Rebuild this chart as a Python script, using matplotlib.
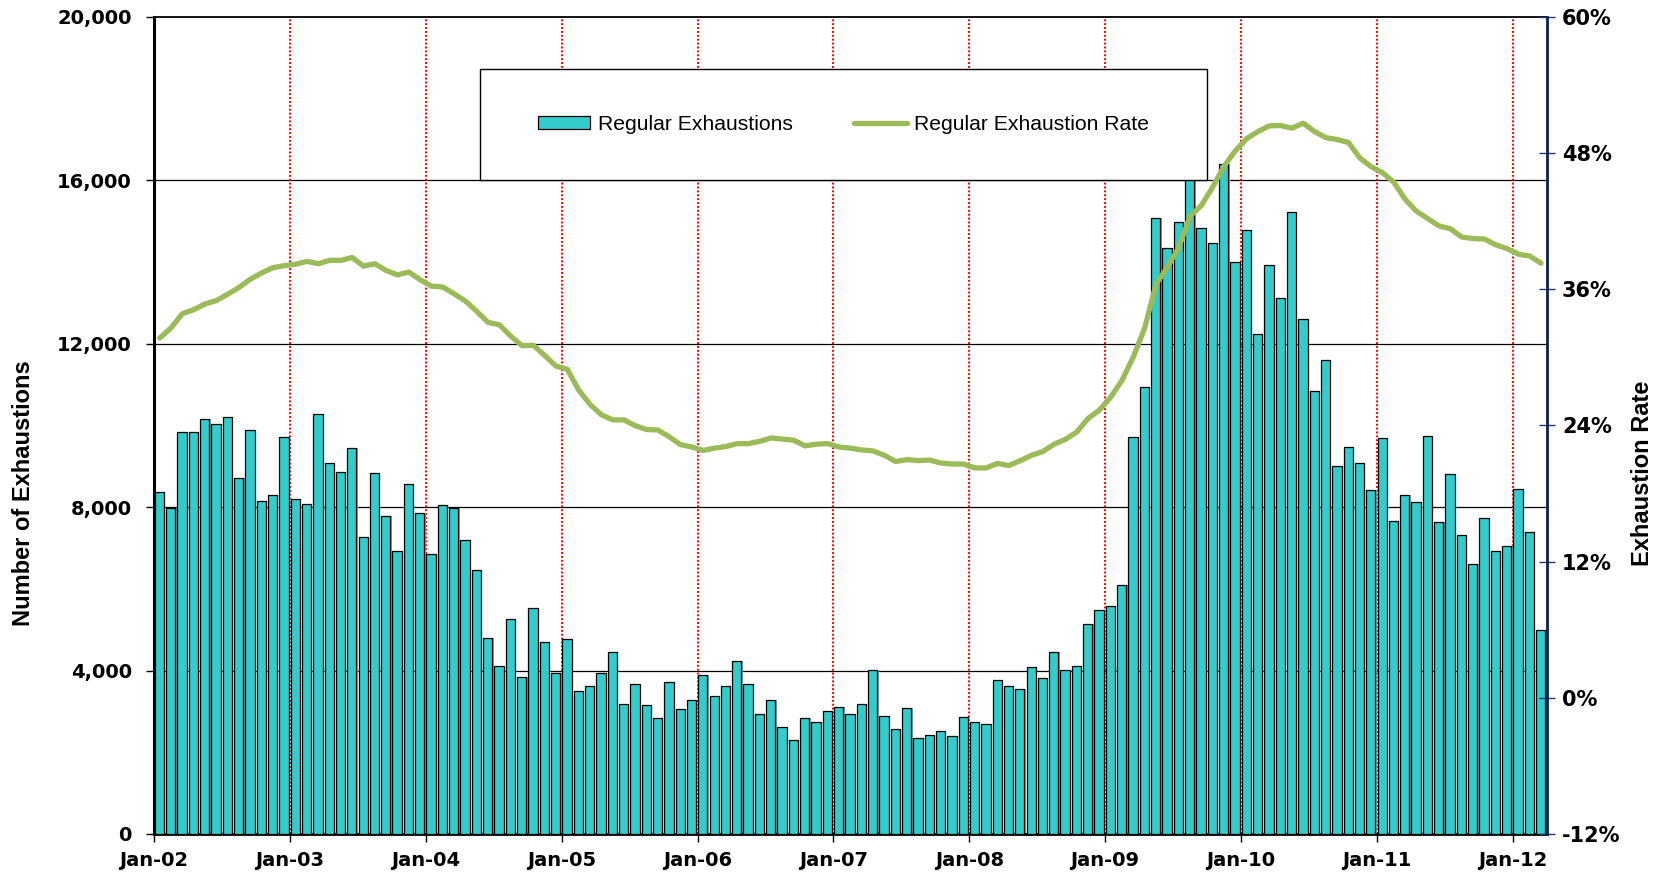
import matplotlib
matplotlib.use("Agg")
import matplotlib.pyplot as plt
from matplotlib.patches import Patch, Rectangle
from matplotlib.lines import Line2D
import numpy as np

plt.rcParams['font.family'] = ['DejaVu Sans']

# 数据：2002-01 到 2012-03 的月度值
years = ["02", "03", "04", "05", "06", "07", "08", "09", "10", "11", "12"]
tick_labels = ["Jan-" + y for y in years]

exhaustions = [
    8380, 7990, 9830, 9850, 10160, 10030, 10200, 8710, 9890, 8140, 8300, 9720,      # 2002
    8190, 8070, 10280, 9080, 8860, 9450, 7260, 8830, 7790, 6930, 8560, 7860,        # 2003
    6850, 8050, 7980, 7190, 6460, 4800, 4120, 5270, 3850, 5530, 4710, 3930,         # 2004
    4770, 3490, 3630, 3940, 4460, 3170, 3670, 3150, 2830, 3720, 3070, 3280,         # 2005
    3880, 3370, 3630, 4230, 3660, 2930, 3280, 2620, 2300, 2850, 2750, 3020,         # 2006
    3120, 2940, 3170, 4010, 2900, 2560, 3090, 2350, 2420, 2530, 2390, 2870,         # 2007
    2740, 2690, 3760, 3620, 3560, 4080, 3820, 4460, 4010, 4120, 5130, 5480,         # 2008
    5570, 6100, 9710, 10930, 15080, 14340, 14980, 16600, 14830, 14460, 16400, 14000, # 2009
    14790, 12230, 13920, 13120, 15220, 12610, 10840, 11600, 9000, 9480, 9080, 8430, # 2010
    9690, 7670, 8290, 8130, 9730, 7630, 8800, 7310, 6600, 7730, 6920, 7040,         # 2011
    8450, 7400, 4990,                                                               # 2012
]

rate = [
    31.7, 32.6, 33.85, 34.2, 34.7, 35.0, 35.56, 36.16, 36.88, 37.44, 37.9, 38.08,
    38.2, 38.46, 38.25, 38.55, 38.55, 38.8, 38.04, 38.25, 37.65, 37.27, 37.52, 36.84,
    36.28, 36.2, 35.6, 34.96, 34.06, 33.08, 32.87, 31.88, 31.03, 31.07, 30.17, 29.23,
    28.94, 27.14, 25.86, 24.95, 24.49, 24.49, 23.98, 23.64, 23.6, 23.0, 22.31, 22.1,
    21.8, 22.0, 22.14, 22.4, 22.4, 22.6, 22.9, 22.8, 22.7, 22.2, 22.35, 22.4,
    22.1, 22.0, 21.84, 21.76, 21.37, 20.82, 20.99, 20.9, 20.95, 20.69, 20.6, 20.6,
    20.26, 20.26, 20.65, 20.47, 20.9, 21.37, 21.7, 22.35, 22.78, 23.42, 24.62, 25.35,
    26.5, 28.0, 30.05, 32.6, 36.46, 37.95, 39.66, 42.44, 43.38, 45.0, 46.84, 48.2,
    49.28, 49.9, 50.4, 50.43, 50.2, 50.64, 49.9, 49.36, 49.2, 48.93, 47.57, 46.8,
    46.28, 45.43, 43.93, 42.87, 42.23, 41.58, 41.33, 40.6, 40.47, 40.43, 39.92, 39.58,
    39.1, 38.93, 38.3,
]

count_ticks = [0, 4000, 8000, 12000, 16000, 20000]
rate_ticks = [-12, 0, 12, 24, 36, 48, 60]

BAR_COLOR = "#33CCCC"
LINE_COLOR = "#9BBB59"
TICK_FONT = dict(fontsize=14, fontweight="bold", family="DejaVu Sans")
RTICK_FONT = dict(fontsize=15, fontweight="bold", family="DejaVu Sans")
LABEL_FONT = dict(fontsize=17, fontweight="bold", family=["Liberation Sans", "DejaVu Sans"])

fig = plt.figure(figsize=(16.69, 8.73), dpi=100)
ax = fig.add_axes([0.0923, 0.0447, 0.8344, 0.9359])

x = np.arange(len(exhaustions))
# 阴影 + 柱子
ax.bar(x + 0.58, exhaustions, width=0.82, color="#9a9a9a", linewidth=0, zorder=2)
ax.bar(x + 0.47, exhaustions, width=0.82, color=BAR_COLOR, edgecolor="black",
       linewidth=0.9, zorder=3)

ax.set_xlim(0, len(exhaustions))
ax.set_ylim(0, 20000)

# 网格线
for v in count_ticks[1:-1]:
    ax.axhline(v, color="black", lw=0.9, zorder=1)
for m in range(12, len(exhaustions), 12):
    ax.axvline(m, color="red", lw=1.4, linestyle=(0, (1, 1)), zorder=1.5)

ax.set_yticks(count_ticks, [f"{v:,}" for v in count_ticks], **TICK_FONT)
ax.set_xticks(list(range(0, len(exhaustions), 12)), tick_labels, **TICK_FONT)
ax.tick_params(axis="y", direction="out", length=6, width=1, pad=10)
ax.tick_params(axis="x", direction="out", length=6, width=1, pad=6)

ax.spines["left"].set_linewidth(2.2)
ax.spines["bottom"].set_linewidth(2.0)
ax.spines["top"].set_linewidth(1.3)
ax.spines["right"].set_visible(False)

# 右轴：比率
ax2 = ax.twinx()
ax2.plot(x + 0.5, rate, color=LINE_COLOR, lw=3.8, solid_capstyle="round",
         solid_joinstyle="round", zorder=3)
ax2.set_ylim(-12, 60)
ax2.set_yticks(rate_ticks, [f"{v}%" for v in rate_ticks], **RTICK_FONT)
ax2.tick_params(axis="y", direction="inout", length=12, width=1, colors="#1F3A6E",
                labelcolor="black", pad=5)
for s in ["left", "top", "bottom"]:
    ax2.spines[s].set_visible(False)
ax2.spines["right"].set_color("#0B1F4F")
ax2.spines["right"].set_linewidth(2.0)

fig.text(0.0138, 0.435, "Number of Exhaustions", rotation=90, ha="center", va="center", **LABEL_FONT)
fig.text(0.9844, 0.458, "Exhaustion Rate", rotation=90, ha="center", va="center", **LABEL_FONT)

# 图例框
lx, ly, lw_, lh = 0.2338, 0.8, 0.5222, 0.1364
ax2.add_patch(Rectangle((lx, ly), lw_, lh, transform=ax2.transAxes, facecolor="white",
                        edgecolor="black", linewidth=1.0, zorder=5, clip_on=False))
handles = [Patch(facecolor=BAR_COLOR, edgecolor="black", linewidth=0.9),
           Line2D([], [], color=LINE_COLOR, lw=3.8, solid_capstyle="round")]
leg = ax2.legend(handles, ["Regular Exhaustions", "Regular Exhaustion Rate"],
                 loc="center", bbox_to_anchor=(lx + lw_ / 2, ly + lh / 2),
                 bbox_transform=ax2.transAxes, ncol=2, frameon=False,
                 prop={"family": "Liberation Sans", "size": 15.2},
                 handlelength=2.5, handleheight=0.55, handletextpad=0.35,
                 columnspacing=2.9)
leg.set_zorder(6)

fig.savefig("out.png", dpi=100)
